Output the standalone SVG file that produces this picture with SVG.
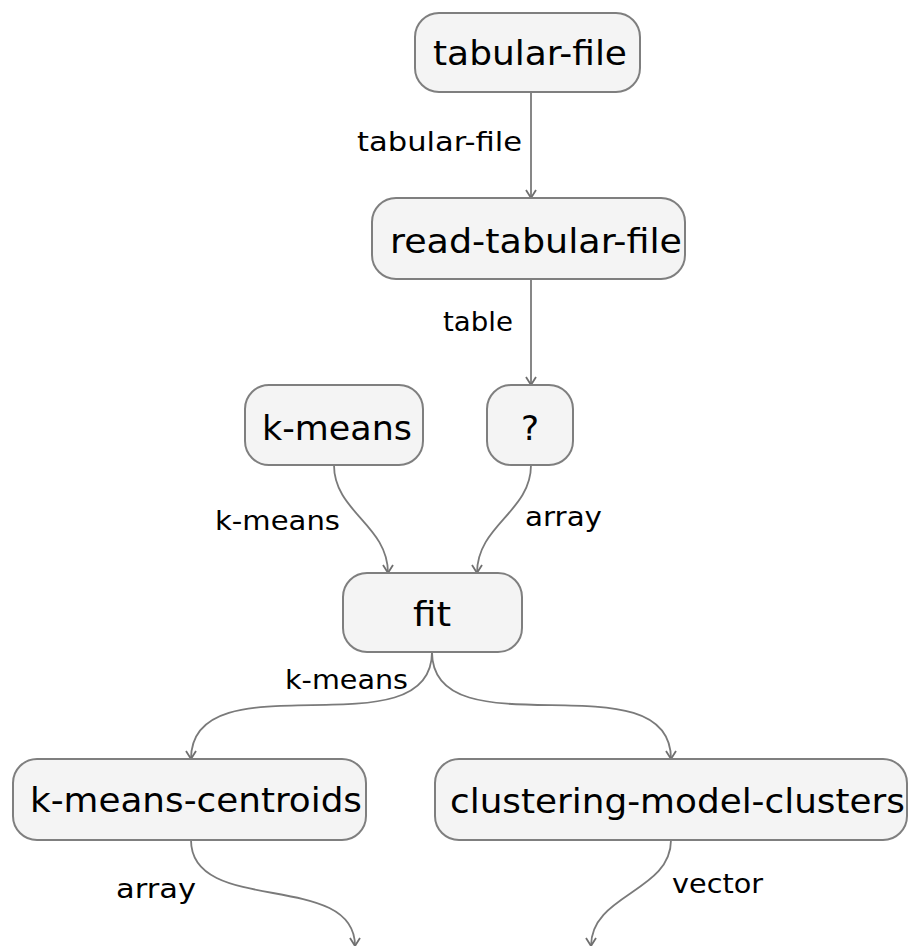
<svg xmlns="http://www.w3.org/2000/svg" width="910" height="946" viewBox="0 0 910 946">
<style>
  .box { fill: #f4f4f4; stroke: #7f7f7f; stroke-width: 2; }
  .nt { font-family: "DejaVu Sans", "Open Sans", sans-serif; font-size: 34px; fill: #000; }
  .lt { font-family: "DejaVu Sans", "Open Sans", sans-serif; font-size: 27px; fill: #000; }
  .edge { fill: none; stroke: #7a7a7a; stroke-width: 1.8; marker-end: url(#arr); }
</style>
<defs>
  <marker id="arr" markerUnits="userSpaceOnUse" viewBox="-10 -7 12 14" refX="0" refY="0" markerWidth="12" markerHeight="14" orient="auto">
    <path d="M-8,-5 Q-2.5,-1.5 0,0 Q-2.5,1.5 -8,5" fill="none" stroke="#6f6f6f" stroke-width="1.8"/>
  </marker>
</defs>
<rect width="910" height="946" fill="#ffffff"/>
<g id="connectors">
  <path class="edge" d="M531,92 L531,198"/>
  <path class="edge" d="M531,279 L531,385"/>
  <path class="edge" d="M334,465 C334,512 388,525 388,573"/>
  <path class="edge" d="M531,465 C531,512 477,525 477,573"/>
  <path class="edge" d="M432,652 C432,755 191,655 191,759"/>
  <path class="edge" d="M432,652 C432,755 671,655 671,759"/>
  <path class="edge" d="M191,840 C191,916 355,870 355,946"/>
  <path class="edge" d="M671,840 C671,892 591,894 591,946"/>
  <text class="lt" x="357" y="151" textLength="165" lengthAdjust="spacingAndGlyphs">tabular-file</text>
  <text class="lt" x="443" y="331" textLength="70" lengthAdjust="spacingAndGlyphs">table</text>
  <text class="lt" x="215" y="530" textLength="125" lengthAdjust="spacingAndGlyphs">k-means</text>
  <text class="lt" x="525" y="526" textLength="77" lengthAdjust="spacingAndGlyphs">array</text>
  <text class="lt" x="285" y="689" textLength="123" lengthAdjust="spacingAndGlyphs">k-means</text>
  <text class="lt" x="116" y="898" textLength="80" lengthAdjust="spacingAndGlyphs">array</text>
  <text class="lt" x="672" y="893" textLength="91" lengthAdjust="spacingAndGlyphs">vector</text>
</g>
<g id="node-tabular-file">
  <rect class="box" x="415" y="13" width="225" height="79" rx="24"/>
  <text class="nt" x="433" y="65" textLength="194" lengthAdjust="spacingAndGlyphs">tabular-file</text>
</g>
<g id="node-read-tabular-file">
  <rect class="box" x="372" y="198" width="313" height="81" rx="24"/>
  <text class="nt" x="390" y="253" textLength="292" lengthAdjust="spacingAndGlyphs">read-tabular-file</text>
</g>
<g id="node-k-means">
  <rect class="box" x="245" y="385" width="178" height="80" rx="24"/>
  <text class="nt" x="262" y="440" textLength="150" lengthAdjust="spacingAndGlyphs">k-means</text>
</g>
<g id="node-unknown">
  <rect class="box" x="487" y="385" width="86" height="80" rx="24"/>
  <text class="nt" x="530" y="440" text-anchor="middle">?</text>
</g>
<g id="node-fit">
  <rect class="box" x="343" y="573" width="179" height="79" rx="24"/>
  <text class="nt" x="413" y="626" textLength="38" lengthAdjust="spacingAndGlyphs">fit</text>
</g>
<g id="node-k-means-centroids">
  <rect class="box" x="13" y="759" width="353" height="81" rx="24"/>
  <text class="nt" x="30" y="812" textLength="332" lengthAdjust="spacingAndGlyphs">k-means-centroids</text>
</g>
<g id="node-clustering-model-clusters">
  <rect class="box" x="435" y="759" width="472" height="81" rx="24"/>
  <text class="nt" x="450" y="813" textLength="455" lengthAdjust="spacingAndGlyphs">clustering-model-clusters</text>
</g>
</svg>
